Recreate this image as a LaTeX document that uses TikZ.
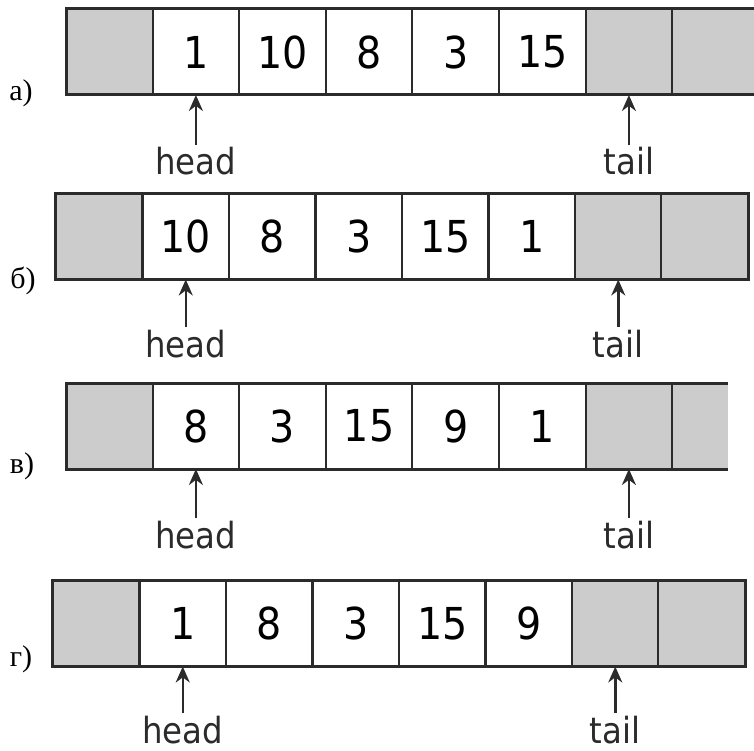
\documentclass[tikz,border=0pt]{standalone}
\usepackage{fontspec}
\setmainfont{Liberation Serif}
\newfontfamily\dejavu[FakeStretch=0.9]{DejaVu Sans}
\usetikzlibrary{arrows.meta}
\definecolor{cellgray}{HTML}{CCCCCC}
\definecolor{linegray}{HTML}{2B2B2B}
\tikzset{
  cell/.style={draw=linegray, line width=2pt, minimum width=86.6pt, minimum height=86pt,
    inner sep=0pt, outer sep=0pt, font=\dejavu\fontsize{44}{44}\selectfont},
  spare/.style={cell, fill=cellgray},
  outline/.style={draw=linegray, line width=3pt, line cap=rect},
  pointer/.style={anchor=base, inner sep=2pt, font=\dejavu\fontsize{36}{36}\selectfont, text=linegray},
  rowlabel/.style={anchor=base, inner sep=0pt, font=\fontsize{30}{30}\selectfont}
}
\begin{document}
\begin{tikzpicture}[x=1pt, y=-1pt]
      \useasboundingbox (0,0) rectangle (754,751);
      \clip (0,0) rectangle (754,751);
      \path[every node/.append style={minimum height=88pt}]
        (109.3,52) node[spare] (a1){}
        (195.9,52) node[cell] (a2){1}
        (282.5,52) node[cell] (a3){10}
        (369.1,52) node[cell] (a4){8}
        (455.7,52) node[cell] (a5){3}
        (542.3,52) node[cell] (a6){15}
        (628.9,52) node[spare] (a7){}
        (715.5,52) node[spare] (a8){};
      \draw[outline] (a8.north east) -- (a1.north west) -- (a1.south west) -- (a8.south east);
      \path[every node/.append style={minimum width=86.5pt, minimum height=85pt}]
        (99.25,236.5) node[spare] (b1){}
        (185.75,236.5) node[cell] (b2){10}
        (272.25,236.5) node[cell] (b3){8}
        (358.75,236.5) node[cell] (b4){3}
        (445.25,236.5) node[cell] (b5){15}
        (531.75,236.5) node[cell] (b6){1}
        (618.25,236.5) node[spare] (b7){}
        (704.75,236.5) node[spare] (b8){};
      \draw[outline] (b1.north west) rectangle (b8.south east);
      \path
        (109.3,426) node[spare] (v1){}
        (195.9,426) node[cell] (v2){8}
        (282.5,426) node[cell] (v3){3}
        (369.1,426) node[cell] (v4){15}
        (455.7,426) node[cell] (v5){9}
        (542.3,426) node[cell] (v6){1}
        (628.9,426) node[spare] (v7){}
        (700.2,426) node[spare, draw=none, minimum width=56pt] (v8){};
      \draw[linegray, line width=2pt] (v7.north east) -- (v7.south east);
      \draw[outline, line cap=butt] (v8.north east) -- (v1.north west) -- (v1.south west) -- (v8.south east);
      \path[every node/.append style={minimum width=86.5pt, minimum height=87pt}]
        (96.25,623.5) node[spare] (g1){}
        (182.75,623.5) node[cell] (g2){1}
        (269.25,623.5) node[cell] (g3){8}
        (355.75,623.5) node[cell] (g4){3}
        (442.25,623.5) node[cell] (g5){15}
        (528.75,623.5) node[cell] (g6){9}
        (615.25,623.5) node[spare] (g7){}
        (701.75,623.5) node[spare] (g8){};
      \draw[outline] (g1.north west) rectangle (g8.south east);
      \path
        (21,101) node[rowlabel] (la){а)}
        (23,288) node[rowlabel] (lb){б)}
        (22,473) node[rowlabel] (lv){в)}
        (21,666) node[rowlabel] (lg){г)};
      \path
        (195.9,175) node[pointer] (ha){head}
        (628.9,175) node[pointer] (ta){tail}
        (185.75,357) node[pointer] (hb){head}
        (618.25,357) node[pointer] (tb){tail}
        (195.9,548) node[pointer] (hv){head}
        (628.9,548) node[pointer] (tv){tail}
        (182.75,743) node[pointer] (hg){head}
        (615.25,743) node[pointer] (tg){tail};
      \begin{scope}[-{Stealth[length=16pt,width=14pt]}, line width=2.5pt, linegray]
        \draw (ha) to (a2);
        \draw (ta) to (a7);
        \draw (hb) to (b2);
        \draw (tb) to (b7);
        \draw (hv) to (v2);
        \draw (tv) to (v7);
        \draw (hg) to (g2);
        \draw (tg) to (g7);
      \end{scope}
    \end{tikzpicture}
\end{document}
